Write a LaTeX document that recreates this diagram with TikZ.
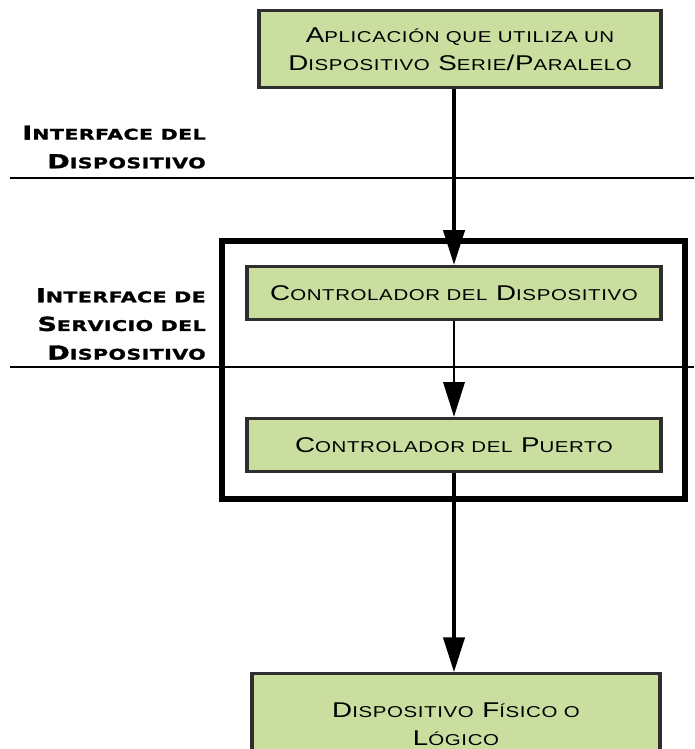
\documentclass[tikz,border=0pt]{standalone}
\usepackage{fontspec}
\setmainfont{Liberation Sans}
\newfontfamily\boxfont[FakeStretch=1.3,LetterSpace=4]{Liberation Sans}
\newfontfamily\labelfont[FakeStretch=1.4,LetterSpace=3,FakeBold=1.5]{DejaVu Sans Bold}
\usetikzlibrary{arrows.meta}
% fake small caps: larger first letter, smaller remaining capitals
\newcommand\bigsc[2]{{\fontsize{16}{21}\selectfont #1}{\fontsize{11.8}{21}\selectfont #2}}
\newcommand\lblsc[2]{{\fontsize{14.5}{21.5}\selectfont #1}{\fontsize{11}{21.5}\selectfont #2}}
\definecolor{boxgreen}{HTML}{C9DE9F}
\definecolor{boxedge}{HTML}{2E2E2E}
\begin{document}
\begin{tikzpicture}[x=0.75pt,y=-0.75pt,
  stepbox/.style={draw=boxedge,line width=2.6pt,fill=boxgreen,inner sep=0pt,
    font=\boxfont\fontsize{16}{21}\selectfont},
  flow/.style={line width=2.4pt,-{Triangle[length=26pt,width=16pt]}},
  layerline/.style={line width=1.6pt},
  sidelabel/.style={align=right,anchor=east,inner sep=0pt,
    font=\labelfont\fontsize{14.5}{21.5}\selectfont}]
\useasboundingbox (0,0) rectangle (694,749);
\clip (0,0) rectangle (694,749);

% layer boundaries
\draw[layerline] (10,178) -- (694,178);
\draw[layerline] (10,367) -- (694,367);

% container for the driver stack
\draw[line width=3.8pt] (222,241) rectangle (685,499);

% boxes
\node[stepbox,minimum width=402*0.75pt,minimum height=77*0.75pt,align=center] (app) at (460,49)
  {\bigsc{A}{PLICACIÓN QUE UTILIZA UN}\\\bigsc{D}{ISPOSITIVO} \bigsc{S}{ERIE}/\bigsc{P}{ARALELO}};
\node[stepbox,minimum width=414*0.75pt,minimum height=53*0.75pt] (dev) at (454,293)
  {\bigsc{C}{ONTROLADOR DEL} \bigsc{D}{ISPOSITIVO}};
\node[stepbox,minimum width=414*0.75pt,minimum height=53*0.75pt] (port) at (454,445)
  {\bigsc{C}{ONTROLADOR DEL} \bigsc{P}{UERTO}};
\node[stepbox,minimum width=408*0.75pt,minimum height=100*0.75pt,align=center,anchor=north] (phys) at (456,672)
  {\bigsc{D}{ISPOSITIVO} \bigsc{F}{ÍSICO O}\\\bigsc{L}{ÓGICO}};

% side labels
\node[sidelabel] (ifdev) at (206,147)
  {\lblsc{I}{NTERFACE DEL}\\\lblsc{D}{ISPOSITIVO}};
\node[sidelabel] (ifsvc) at (206,324)
  {\lblsc{I}{NTERFACE DE}\\\lblsc{S}{ERVICIO DEL}\\\lblsc{D}{ISPOSITIVO}};

% flow arrows
\draw[flow] (app.south -| 454,0) -- (dev.north);
\draw[flow,line width=1.8pt] (dev.south) -- (port.north);
\draw[flow] (port.south) -- (port.south |- phys.north);
\end{tikzpicture}
\end{document}
